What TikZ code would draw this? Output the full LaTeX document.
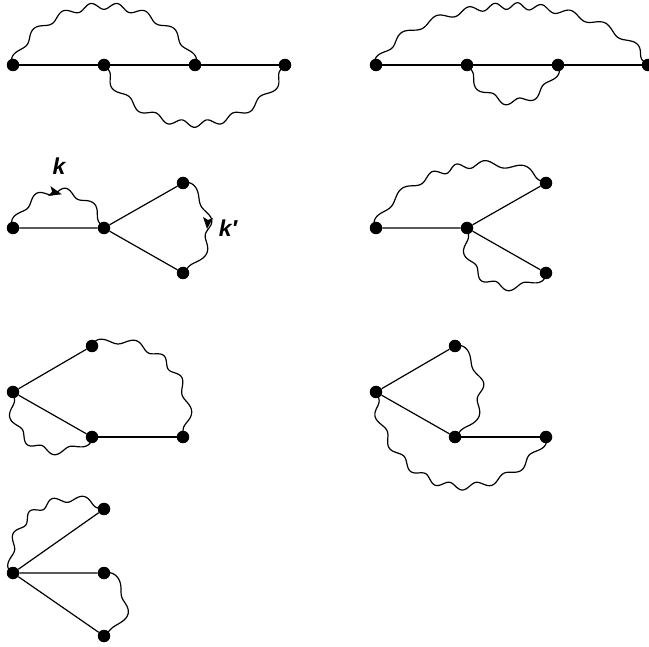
\documentclass[tikz,border=0pt]{standalone}
\usepackage{fontspec}
\setsansfont{Liberation Sans}
\tikzset{
  x=1pt,y=-1pt,
  dot/.style={circle,fill=black,draw=none,inner sep=0pt,minimum size=12.5pt},
  plain/.style={line width=1.2pt,black},
  wavy/.style={line width=1.2pt,black,line join=round},
  tip/.style={fill=black,draw=none},
  lab/.style={font=\sffamily\itshape\bfseries\fontsize{23}{23}\selectfont,inner sep=0pt}
}
% wave along a rounded arc from node #1 to node #2, bulging to the left of travel:
% #3 arc height, #4 periods, #5 amplitude
\newcommand\wv[5]{%
\begingroup
\pgfpointanchor{#1}{center}\pgfgetlastxy\wax\way
\pgfpointanchor{#2}{center}\pgfgetlastxy\wbx\wby
\pgfmathsetmacro\wL{veclen(\wbx-\wax,\wby-\way)}
\pgfmathsetmacro\wR{\wL/2}
\pgfmathsetmacro\wex{(\wbx-\wax)/\wL}
\pgfmathsetmacro\wey{(\wby-\way)/\wL}
\pgfmathsetmacro\wcx{(\wax+\wbx)/2}
\pgfmathsetmacro\wcy{(\way+\wby)/2}
\pgfmathsetmacro\wK{28.65*(\wR-#3)/(\wR+#3)}
\begin{scope}[x=1pt,y=1pt,declare function={
  wth(\t)=180-180*\t-\wK*sin(360*\t);
  wA(\t)=(#5)*sin(360*(#4)*\t);
  wnn(\t)=veclen((#3)*cos(wth(\t)),\wR*sin(wth(\t)));
  wU(\t)=\wR*cos(wth(\t))*(1-0.15*sin(wth(\t)))+wA(\t)*(#3)*cos(wth(\t))/wnn(\t);
  wV(\t)=(#3)*sin(wth(\t))+wA(\t)*\wR*sin(wth(\t))/wnn(\t);
}]
\draw[wavy] plot[domain=0:1,samples=181,variable=\s] ({\wcx+wU(\s)*\wex-wV(\s)*\wey},{\wcy+wU(\s)*\wey+wV(\s)*\wex});
\end{scope}
\endgroup}
\begin{document}
\begin{tikzpicture}
\useasboundingbox (0,0) rectangle (649,647);
% diagram 1
\node[dot] (a1) at (13,65) {}; \node[dot] (a2) at (104,65) {}; \node[dot] (a3) at (195,65) {}; \node[dot] (a4) at (285,65) {};
\draw[plain] (a1) -- (a2) -- (a3) -- (a4);
\wv{a1}{a3}{59}{7.5}{3.3}
\wv{a4}{a2}{59}{7.5}{-3.3}
% diagram 2
\node[dot] (b1) at (376,65) {}; \node[dot] (b2) at (467,65) {}; \node[dot] (b3) at (558,65) {}; \node[dot] (b4) at (648,65) {};
\draw[plain] (b1) -- (b2) -- (b3) -- (b4);
\wv{b1}{b4}{59}{10}{3.3}
\wv{b3}{b2}{37}{4}{3.3}
% diagram 3
\node[dot] (c1) at (13,228) {}; \node[dot] (c2) at (104,228) {}; \node[dot] (c3) at (183,183) {}; \node[dot] (c4) at (183,273) {};
\draw[plain] (c1) -- (c2) -- (c3); \draw[plain] (c2) -- (c4);
\wv{c1}{c2}{37}{4}{3.3}
\wv{c3}{c4}{26}{3}{3.3}
\coordinate (t1) at (55,192.5); \coordinate (t2) at (208,223);
\fill[tip,shift={(t1)},rotate=-15] (7,0) -- (-6,5) -- (-3,0) -- (-6,-5) -- cycle;
\fill[tip,shift={(t2)}] (-1,6) -- (-5,-6) -- (0,-3) -- (5,-5) -- cycle;
\node[lab] (k) at (59,166) {k};
\node[lab] (kp) at (228,228.5) {k′};
% diagram 4
\node[dot] (d1) at (376,228) {}; \node[dot] (d2) at (467,228) {}; \node[dot] (d3) at (546,183) {}; \node[dot] (d4) at (546,273) {};
\draw[plain] (d1) -- (d2) -- (d3); \draw[plain] (d2) -- (d4);
\wv{d1}{d3}{38}{6}{3.3}
\wv{d4}{d2}{36}{4}{3.3}
% diagram 5
\node[dot] (e1) at (13,392) {}; \node[dot] (e2) at (92,346) {}; \node[dot] (e3) at (92,437) {}; \node[dot] (e4) at (183,437) {};
\draw[plain] (e3) -- (e1) -- (e2); \draw[plain] (e3) -- (e4);
\wv{e2}{e4}{41}{5}{3.3}
\wv{e3}{e1}{36}{4}{3.3}
% diagram 6
\node[dot] (f1) at (376,392) {}; \node[dot] (f2) at (455,346) {}; \node[dot] (f3) at (455,437) {}; \node[dot] (f4) at (546,437) {};
\draw[plain] (f3) -- (f1) -- (f2); \draw[plain] (f3) -- (f4);
\wv{f2}{f3}{26}{3}{3.3}
\wv{f4}{f1}{72}{8}{3.3}
% diagram 7
\node[dot] (g1) at (13,573) {}; \node[dot] (g2) at (104,509) {}; \node[dot] (g3) at (104,573) {}; \node[dot] (g4) at (104,636) {};
\draw[plain] (g2) -- (g1) -- (g3); \draw[plain] (g1) -- (g4);
\wv{g1}{g2}{38}{5}{3.3}
\wv{g3}{g4}{22}{2}{3.3}
\end{tikzpicture}
\end{document}
